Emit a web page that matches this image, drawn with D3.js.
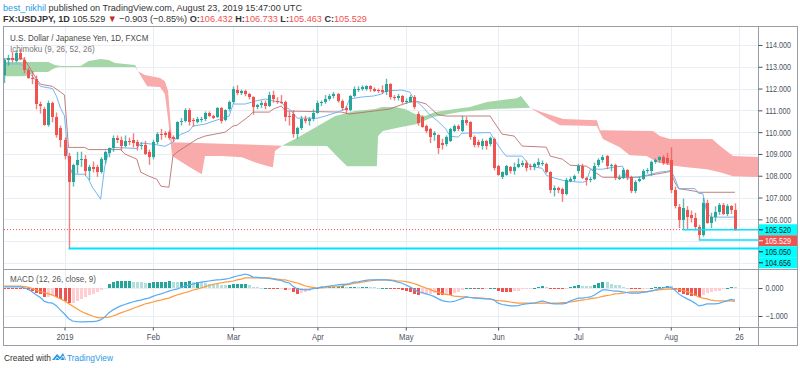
<!DOCTYPE html>
<html>
<head>
<meta charset="utf-8">
<script src="https://cdn.jsdelivr.net/npm/d3@7"></script>
<style>
body { margin: 0; background: #fff; }
svg { display: block; font-family: "Liberation Sans", Arial, sans-serif; }
</style>
</head>
<body>
<svg id="chart" width="800" height="368"></svg>
<script>
// daily FXCM USDJPY, 10 Dec 2018 .. 23 Aug 2019 (one value per trading day)
const opens = [
  112.60,113.30,113.40,113.25,113.65,113.30,112.85,112.50,112.45,111.30,111.05,110.35,111.35,110.70,110.20,
  109.65,108.90,107.70,108.50,108.70,108.75,108.20,108.40,108.40,108.15,108.70,109.05,109.25,109.75,109.65,109.35,109.60,109.65,109.55,109.35,109.40,109.10,
  108.85,109.55,109.90,109.95,110.00,109.80,109.70,110.45,110.50,111.00,110.55,110.45,110.55,110.60,110.90,110.75,110.70,111.10,110.55,111.05,
  111.40,111.95,111.80,111.90,111.75,111.60,111.15,111.25,111.35,111.20,111.70,111.45,111.40,111.40,110.75,110.85,109.90,110.20,110.60,110.50,110.60,
  110.90,111.35,111.40,111.50,111.65,111.75,111.45,111.10,111.00,111.65,111.95,112.00,112.00,112.10,112.00,111.95,111.95,111.85,112.20,111.60,111.55,111.65,
  111.40,111.40,111.60,110.85,110.70,110.30,110.15,109.85,109.85,109.50,109.45,109.60,110.05,110.30,110.05,110.55,110.45,109.80,109.55,109.35,109.60,109.45,109.70,
  108.45,107.95,108.05,108.40,108.20,108.40,108.50,108.60,108.45,108.40,108.50,108.55,108.55,108.15,107.35,107.45,107.40,107.15,107.75,107.85,
  108.20,108.45,107.90,107.80,107.85,108.50,108.70,108.90,108.45,108.50,107.90,107.90,108.25,107.95,107.30,107.75,107.85,108.20,108.20,108.65,108.70,108.85,108.80,
  108.70,107.35,106.55,105.95,106.45,106.20,106.05,105.65,105.30,106.75,105.85,106.10,106.35,106.65,106.25,106.60,106.432
];
const highs = [
  113.40,113.55,113.70,113.75,113.80,113.45,112.95,112.80,112.60,111.40,111.15,111.45,111.40,110.90,110.30,
  109.75,109.05,108.55,109.10,109.10,108.95,108.50,108.65,108.50,108.85,109.15,109.30,109.85,109.85,109.80,109.85,109.75,109.95,109.65,109.55,109.60,109.20,
  109.65,110.00,110.15,110.05,110.10,109.85,110.50,110.65,111.10,111.10,110.65,110.70,110.70,110.95,110.95,110.80,111.15,111.15,111.05,111.45,
  112.10,112.15,111.95,111.95,111.80,111.65,111.30,111.45,111.45,111.85,111.90,111.60,111.70,111.45,110.95,111.00,110.25,110.75,110.75,110.70,111.05,
  111.45,111.45,111.70,111.75,111.85,111.80,111.50,111.20,111.70,112.10,112.10,112.15,112.15,112.15,112.05,112.00,112.15,112.45,112.25,111.70,111.75,111.70,
  111.55,111.70,111.70,110.95,110.75,110.35,110.20,110.05,109.90,109.70,109.85,110.20,110.35,110.35,110.75,110.70,110.50,109.85,109.65,109.70,109.65,109.80,109.75,
  108.50,108.20,108.50,108.45,108.60,108.80,108.70,108.70,108.55,108.60,108.80,108.70,108.60,108.20,107.55,107.50,107.45,107.90,107.95,108.05,
  108.55,108.55,107.95,107.95,108.60,108.80,108.95,108.95,108.55,108.55,108.05,108.35,108.30,108.00,107.80,107.95,108.30,108.35,108.70,108.80,108.90,108.95,109.05,
  109.30,107.50,106.70,106.95,106.60,106.40,106.30,105.75,106.98,106.90,106.30,106.60,106.75,106.75,106.70,106.65,106.733
];
const lows = [
  112.25,113.05,113.20,113.20,113.30,112.70,112.45,112.20,111.05,110.85,110.30,110.25,110.45,109.75,109.30,
  108.75,104.656,107.50,108.10,108.40,108.00,107.80,108.15,107.95,108.10,108.55,108.85,109.10,109.50,109.15,109.30,109.40,109.30,109.15,109.20,108.95,108.50,
  108.75,109.45,109.65,109.75,109.65,109.55,109.65,110.30,110.45,110.30,110.25,110.40,110.45,110.50,110.70,110.60,110.65,110.40,110.50,110.95,
  111.30,111.70,111.70,111.65,111.50,110.80,111.05,111.10,111.05,111.15,111.35,111.30,111.30,110.50,110.30,109.75,109.70,110.10,110.40,110.30,110.50,
  110.85,111.20,111.30,111.45,111.55,111.35,111.00,110.85,110.95,111.60,111.85,111.90,111.90,111.85,111.85,111.80,111.75,111.70,111.50,111.45,111.45,111.30,
  111.30,111.35,111.05,110.30,110.20,109.95,109.50,109.60,109.00,109.20,109.35,109.55,110.00,110.05,110.00,110.30,109.65,109.30,109.30,109.20,109.20,109.35,108.25,
  108.00,107.85,108.00,108.10,108.05,108.35,108.40,108.20,108.25,108.25,108.40,108.45,108.10,107.20,107.05,107.20,106.80,107.10,107.70,107.75,
  108.10,107.85,107.55,107.70,107.80,108.40,108.60,108.30,108.20,107.80,107.80,107.85,107.80,107.20,107.20,107.70,107.80,108.10,108.00,108.55,108.60,108.50,108.50,
  107.20,106.50,105.60,105.52,105.55,105.85,105.50,105.05,105.20,105.80,105.60,105.90,106.20,106.20,106.15,106.25,105.463
];
const closes = [
  113.30,113.40,113.30,113.65,113.35,112.85,112.50,112.45,111.30,111.20,110.35,111.35,110.70,109.85,109.65,
  108.90,107.70,108.50,108.70,108.75,108.20,108.40,108.30,108.15,108.75,109.10,109.25,109.75,109.65,109.35,109.60,109.55,109.50,109.35,109.40,109.00,108.85,
  109.55,109.90,109.85,109.85,109.75,109.70,110.45,110.50,111.00,110.45,110.50,110.60,110.60,110.90,110.75,110.65,111.10,110.50,111.00,111.40,
  112.00,111.80,111.90,111.75,111.60,111.15,111.25,111.35,111.20,111.70,111.50,111.40,111.35,110.70,110.70,109.90,110.20,110.60,110.50,110.60,110.90,
  111.35,111.40,111.50,111.65,111.75,111.45,111.10,111.00,111.65,112.00,112.00,112.05,112.10,112.00,111.90,111.90,111.85,112.20,111.60,111.55,111.65,111.40,
  111.45,111.60,111.15,110.40,110.25,110.05,109.80,109.95,109.25,109.40,109.80,110.15,110.30,110.15,110.55,110.40,109.80,109.40,109.40,109.60,109.35,109.75,108.35,
  108.05,108.15,108.45,108.20,108.40,108.55,108.60,108.35,108.40,108.55,108.65,108.60,108.15,107.35,107.45,107.35,107.15,107.80,107.85,108.00,
  108.45,107.90,107.80,107.85,108.45,108.70,108.85,108.45,108.50,107.90,107.90,108.25,107.95,107.30,107.70,107.85,108.20,108.25,108.65,108.70,108.85,108.60,108.60,
  107.35,106.60,105.95,106.50,106.10,106.05,105.65,105.30,106.75,105.85,106.10,106.35,106.65,106.25,106.60,106.432,105.529
];

// ichimoku lines: [bar index, price]
const tenkan = [
  [0,113.13],[4,113.13],[5,113.0],[7,112.57],[8,112.35],[9,112.1],[12,112.0],[13,111.65],[14,111.1],[15,110.75],
  [16,108.6],[17,108.07],[20,108.07],[21,107.84],[22,107.45],[23,107.2],[24,106.92],[25,108.4],[26,109.1],[27,109.3],
  [33,109.25],[34,109.5],[37,109.45],[40,109.35],[42,109.54],[43,109.77],[44,109.9],[46,110.05],[47,110.28],[50,110.37],
  [52,110.5],[56,110.74],[57,111.29],[60,111.29],[63,111.45],[65,111.52],[67,111.43],[69,111.38],[70,111.15],[71,111.06],
  [73,110.64],[78,110.64],[80,110.74],[83,110.92],[85,111.06],[86,111.52],[89,111.61],[92,111.66],[94,111.75],[95,111.89],
  [99,111.93],[101,111.84],[102,111.52],[104,111.2],[106,110.8],[108,110.5],[110,110.14],[111,109.82],[113,109.77],[114,109.95],
  [121,109.98],[122,109.68],[124,109.13],[125,108.9],[129,108.9],[131,108.44],[134,108.34],[135,108.02],[137,107.89],[140,107.75],
  [144,107.7],[145,107.75],[146,108.3],[149,108.3],[152,108.4],[154,108.44],[155,107.89],[158,107.95],[160,108.02],[163,108.16],
  [165,108.2],[166,108.25],[167,107.9],[168,107.41],[172,107.41],[173,107.18],[174,107.18],[175,106.3],[176,106.1],[182,106.1]
];
const kijun = [
  [0,113.36],[5,113.36],[6,113.05],[8,112.45],[9,112.2],[12,112.1],[14,111.84],[15,111.7],[16,109.3],[20,109.3],
  [21,109.2],[29,109.2],[30,109.0],[33,108.76],[34,108.16],[36,107.98],[38,107.84],[39,107.52],[41,107.47],[42,108.9],
  [43,109.08],[48,109.68],[50,109.82],[55,110.0],[57,110.28],[58,110.32],[61,110.74],[62,110.92],[66,110.92],[67,111.06],
  [69,111.2],[70,110.97],[84,110.92],[86,110.83],[96,111.06],[98,111.2],[101,111.38],[103,111.4],[105,111.3],[108,110.8],
  [110,110.74],[121,110.74],[122,110.46],[124,109.91],[127,109.82],[129,109.36],[135,109.31],[136,108.9],[139,108.76],[141,108.48],
  [145,108.44],[149,107.93],[158,107.93],[165,108.16],[166,108.2],[167,107.7],[168,107.4],[169,107.38],[172,107.29],[173,107.24],[182,107.24]
];
const spanA = [
  [0,113.22],[4,113.22],[11,113.22],[12.6,113.08],[14,113.03],[19,113.03],[21,113.26],[24,113.36],[26,113.31],[27.6,113.17],[32.6,113.08],[33.3,112.8],
  [35.6,112.11],[38.8,112.07],[40,111.75],[40.8,110.6],[41.8,108.9],[45.8,108.44],[49.2,108.07],[50,108.9],[54.2,108.9],[59.2,108.85],[62.4,108.62],[65.7,108.44],[66.9,108.39],[67.4,109.13],[69.2,109.38],
  [73.2,109.77],[78.1,110.28],[82.4,110.74],[87.3,110.97],[92.3,111.06],[94.1,111.15],[97.3,111.15],[99.8,111.06],[102.3,110.83],[104.8,110.74],[107.3,110.92],[112.3,111.06],[116,111.15],[120.2,111.38],[127.7,111.56],[128.7,111.66],[131,111.12],
  [135.2,110.64],[138.4,110.32],[147.6,110.28],[149.1,109.68],[153.3,109.31],[155.8,108.94],[160,108.9],[162.6,108.62],[165.8,108.48],[170,108.39],[175,108.3],[178.3,108.16],[181.5,107.98],[189,107.93]
];
const spanB = [
  [0,112.57],[5.2,112.57],[7.6,112.76],[10.9,112.76],[12.1,112.9],[13.4,112.99],[32.6,112.99],[33.3,112.8],
  [35,112.62],[38.8,112.48],[40,112.34],[40.8,111.89],[41.8,109.54],[69.2,109.38],
  [80.4,109.36],[81.9,109.08],[83.6,108.76],[85.4,108.44],[92.8,108.44],[93.1,109.82],[94.3,110.05],[98.6,110.23],[102.8,110.37],[106.8,110.69],[113.5,110.92],[121.7,111.06],[131,111.12],
  [133.4,110.95],[136.7,110.75],[139.2,110.6],[147.6,110.55],[148.4,110.09],[161.6,110.05],[163.3,109.82],[165.8,109.68],[176.3,109.68],[178.3,109.36],[181.5,108.9],[189,108.85]
];
const cloudCuts = [0, 33.3, 69.2, 131, 189];

const macd = [
  0.04,0.04,0.04,0.04,0.04,0.00,-0.05,-0.14,-0.25,-0.34,
  -0.48,-0.52,-0.54,-0.64,-0.79,-0.93,-1.09,-1.18,-1.20,-1.21,
  -1.21,-1.20,-1.20,-1.18,-1.14,-1.04,-0.89,-0.79,-0.71,-0.64,
  -0.59,-0.54,-0.50,-0.46,-0.43,-0.39,-0.36,-0.30,-0.25,-0.21,
  -0.16,-0.11,-0.07,-0.04,0.02,0.07,0.11,0.14,0.18,0.21,
  0.23,0.25,0.27,0.29,0.30,0.32,0.34,0.39,0.43,0.46,
  0.50,0.46,0.39,0.38,0.36,0.36,0.34,0.32,0.29,0.27,
  0.21,0.18,0.05,-0.04,-0.05,-0.07,-0.05,-0.02,0.00,0.04,
  0.05,0.07,0.09,0.11,0.13,0.13,0.16,0.21,0.21,0.25,
  0.27,0.29,0.29,0.29,0.29,0.29,0.27,0.25,0.21,0.18,
  0.11,0.04,-0.04,-0.13,-0.16,-0.21,-0.25,-0.30,-0.38,-0.45,
  -0.48,-0.50,-0.48,-0.43,-0.38,-0.32,-0.34,-0.36,-0.36,-0.38,
  -0.39,-0.39,-0.43,-0.54,-0.59,-0.61,-0.64,-0.64,-0.63,-0.59,
  -0.57,-0.55,-0.54,-0.50,-0.46,-0.50,-0.55,-0.57,-0.57,-0.57,
  -0.54,-0.46,-0.41,-0.36,-0.36,-0.34,-0.32,-0.25,-0.16,-0.07,
  -0.07,-0.09,-0.11,-0.11,-0.14,-0.16,-0.18,-0.18,-0.18,-0.16,
  -0.14,-0.11,-0.07,-0.02,0.00,0.04,0.02,-0.07,-0.21,-0.30,
  -0.38,-0.45,-0.54,-0.64,-0.61,-0.57,-0.57,-0.57,-0.55,-0.50,
  -0.46,-0.41,-0.43
];
const signal = [
  0.07,0.07,0.07,0.07,0.07,0.05,0.02,-0.02,-0.07,-0.13,
  -0.16,-0.21,-0.25,-0.32,-0.39,-0.46,-0.55,-0.64,-0.73,-0.82,
  -0.89,-0.95,-1.00,-1.05,-1.07,-1.05,-1.04,-1.00,-0.95,-0.89,
  -0.84,-0.79,-0.73,-0.68,-0.63,-0.57,-0.54,-0.50,-0.46,-0.43,
  -0.39,-0.36,-0.30,-0.25,-0.21,-0.16,-0.13,-0.07,-0.04,0.00,
  0.05,0.09,0.13,0.16,0.18,0.21,0.23,0.25,0.29,0.32,
  0.36,0.36,0.36,0.36,0.36,0.36,0.36,0.34,0.32,0.30,
  0.29,0.25,0.21,0.18,0.13,0.07,0.04,0.02,0.00,0.00,
  0.02,0.04,0.04,0.05,0.07,0.11,0.13,0.16,0.18,0.21,
  0.23,0.25,0.27,0.29,0.29,0.29,0.29,0.27,0.25,0.25,
  0.23,0.20,0.16,0.11,0.05,0.00,-0.05,-0.11,-0.14,-0.20,
  -0.23,-0.25,-0.29,-0.30,-0.32,-0.32,-0.34,-0.34,-0.36,-0.36,
  -0.38,-0.39,-0.43,-0.45,-0.46,-0.48,-0.50,-0.52,-0.54,-0.54,
  -0.54,-0.54,-0.54,-0.54,-0.54,-0.54,-0.54,-0.54,-0.54,-0.52,
  -0.52,-0.50,-0.48,-0.45,-0.43,-0.41,-0.38,-0.36,-0.34,-0.30,
  -0.27,-0.25,-0.21,-0.20,-0.18,-0.16,-0.14,-0.14,-0.14,-0.13,
  -0.13,-0.11,-0.09,-0.07,-0.05,-0.04,-0.04,-0.04,-0.05,-0.09,
  -0.13,-0.18,-0.25,-0.32,-0.36,-0.39,-0.43,-0.45,-0.46,-0.46,
  -0.46,-0.46,-0.48
];

// drawn horizontal levels and the axis badges
const levelPrices = [105.520, 105.050, 104.656];
const levelStart = ["2019-08-06", "2019-08-12", "2019-01-03"];
const badgePrices = [105.520, 105.529, 105.050, 104.656];
const badgeFills = ["#00ffff", "#ef5350", "#00ffff", "#00ffff"];

const priceTicks = [106, 107, 108, 109, 110, 111, 112, 113, 114];
const macdTicks = [0, -1];
const tickDates = ["2019-01-02","2019-02-01","2019-03-01","2019-04-01","2019-05-01","2019-06-03","2019-07-01","2019-08-01","2019-08-26"];
const tickLabels = ["2019","Feb","Mar","Apr","May","Jun","Jul","Aug","26"];

const UP = "#26a69a", DOWN = "#ef5350";
const GRID = "#e9eef5", FRAME = "#9a9da6", TXT = "#4c525e";

// trading days, weekends and the two holidays skipped
const holidays = ["2018-12-25", "2019-01-01"];
const fmt = d3.utcFormat("%Y-%m-%d");
const days = [];
for (let d = new Date(Date.UTC(2018, 11, 10)); days.length < 195; d = d3.utcDay.offset(d, 1)) {
  const wd = d.getUTCDay();
  if (wd === 0 || wd === 6 || holidays.includes(fmt(d))) continue;
  days.push(fmt(d));
}
const dayIndex = s => days.indexOf(s);

const padL = 4, axisX = 758, paneTop = 27, mainBot = 269, macdBot = 327, frameBot = 345, outerR = 797;

const x = d3.scaleLinear().domain([dayIndex("2019-01-02"), dayIndex("2019-08-26")]).range([64.5, 739]);
const y = d3.scaleLinear().domain([103.72, 114.825]).range([mainBot, paneTop]);
const ym = d3.scaleLinear().domain([-1.393, 0.679]).range([macdBot, mainBot]);

const svg = d3.select("#chart");
svg.append("rect").attr("width", 800).attr("height", 368).attr("fill", "#fff");

const defs = svg.append("defs");
defs.append("clipPath").attr("id", "clipMain").append("rect")
  .attr("x", padL).attr("y", paneTop).attr("width", axisX - padL).attr("height", mainBot - paneTop);
defs.append("clipPath").attr("id", "clipMacd").append("rect")
  .attr("x", padL).attr("y", mainBot).attr("width", axisX - padL).attr("height", macdBot - mainBot);

// squeezed text helper (the snapshot is a bit narrower than its glyphs)
function txt(g, px, py, size, sx, anchor) {
  return g.append("text")
    .attr("transform", `translate(${px},${py}) scale(${sx},1)`)
    .attr("font-size", size).attr("text-anchor", anchor || "start");
}

// grid
const grid = svg.append("g").attr("shape-rendering", "crispEdges");
grid.selectAll("line.v").data(tickDates).join("line")
  .attr("x1", d => Math.round(x(dayIndex(d))) + 0.5).attr("x2", d => Math.round(x(dayIndex(d))) + 0.5)
  .attr("y1", paneTop).attr("y2", macdBot).attr("stroke", GRID);
grid.selectAll("line.h").data(d3.range(104, 115)).join("line")
  .attr("x1", padL).attr("x2", axisX)
  .attr("y1", d => Math.round(y(d)) + 0.5).attr("y2", d => Math.round(y(d)) + 0.5).attr("stroke", GRID);
grid.selectAll("line.hm").data(macdTicks).join("line")
  .attr("x1", padL).attr("x2", axisX)
  .attr("y1", d => Math.round(ym(d)) + 0.5).attr("y2", d => Math.round(ym(d)) + 0.5).attr("stroke", GRID);

// cloud
const main = svg.append("g").attr("clip-path", "url(#clipMain)");
const pl = d3.line().x(d => x(d[0])).y(d => y(d[1]));
for (let k = 0; k < cloudCuts.length - 1; k++) {
  const s = cloudCuts[k], e = cloudCuts[k + 1];
  const a = spanA.filter(d => d[0] >= s && d[0] <= e);
  const b = spanB.filter(d => d[0] >= s && d[0] <= e);
  const bull = d3.mean(a, d => d[1]) >= d3.mean(b, d => d[1]);
  main.append("path").attr("d", pl(a.concat(b.slice().reverse())) + "Z")
    .attr("fill", bull ? "#a5d6a7" : "#f9aaaa");
}

// tenkan / kijun
main.append("path").attr("d", pl(kijun)).attr("fill", "none")
  .attr("stroke", "#b86a6a").attr("stroke-opacity", 0.85).attr("stroke-width", 1);
main.append("path").attr("d", pl(tenkan)).attr("fill", "none")
  .attr("stroke", "#74b6f2").attr("stroke-width", 1);

// candles: soft wicks like the downscaled snapshot, crisp bodies
const bars = d3.range(closes.length);
const cx = i => Math.round(x(i));
const col = i => closes[i] >= opens[i] ? UP : DOWN;
main.append("g").selectAll("line").data(bars).join("line")
  .attr("x1", i => cx(i) + 0.5).attr("x2", i => cx(i) + 0.5)
  .attr("y1", i => y(highs[i])).attr("y2", i => y(lows[i]))
  .attr("stroke", col).attr("stroke-width", 1.4).attr("stroke-opacity", 0.75);
main.append("g").attr("shape-rendering", "crispEdges").selectAll("rect").data(bars).join("rect")
  .attr("x", i => cx(i) - 1).attr("width", 3)
  .attr("y", i => y(Math.max(opens[i], closes[i])))
  .attr("height", i => Math.max(1, Math.abs(y(opens[i]) - y(closes[i]))))
  .attr("fill", col);

// levels
const lv = main.append("g");
lv.append("line").attr("x1", padL).attr("x2", axisX)
  .attr("y1", y(closes[closes.length - 1])).attr("y2", y(closes[closes.length - 1]))
  .attr("stroke", DOWN).attr("stroke-dasharray", "1,2");
lv.selectAll("line.lvl").data(levelPrices).join("line").attr("class", "lvl")
  .attr("x1", (d, i) => x(dayIndex(levelStart[i]))).attr("x2", axisX)
  .attr("y1", d => y(d)).attr("y2", d => y(d))
  .attr("stroke", "#00e5ff").attr("stroke-width", (d, i) => i === 2 ? 2 : 1.5);

// MACD pane
const mp = svg.append("g").attr("clip-path", "url(#clipMacd)");
const hist = bars.map(i => macd[i] - signal[i]);
const hcol = i => {
  const h = hist[i], p = i > 0 ? hist[i - 1] : h;
  if (h >= 0) return h >= p ? "#26a69a" : "#b2dfdb";
  return h <= p ? "#ef5350" : "#ffcdd2";
};
mp.append("g").attr("shape-rendering", "crispEdges")
  .selectAll("rect").data(bars).join("rect")
  .attr("x", i => cx(i) - 1).attr("width", 3)
  .attr("y", i => Math.min(ym(0), ym(hist[i])))
  .attr("height", i => Math.max(0.5, Math.abs(ym(hist[i]) - ym(0))))
  .attr("fill", hcol);
const ml = d3.line().x((d, i) => x(i)).y(d => ym(d));
mp.append("path").attr("d", ml(signal)).attr("fill", "none").attr("stroke", "#ff9a3d").attr("stroke-width", 1.2);
mp.append("path").attr("d", ml(macd)).attr("fill", "none").attr("stroke", "#58acf5").attr("stroke-width", 1.2);

// frame
const fr = svg.append("g").attr("stroke", FRAME).attr("fill", "none").attr("shape-rendering", "crispEdges");
fr.append("rect").attr("x", 3.5).attr("y", paneTop - 0.5).attr("width", outerR - 3.5).attr("height", frameBot - paneTop + 0.5);
fr.append("line").attr("x1", axisX + 0.5).attr("x2", axisX + 0.5).attr("y1", paneTop).attr("y2", frameBot);
fr.append("line").attr("x1", 3.5).attr("x2", outerR).attr("y1", mainBot + 0.5).attr("y2", mainBot + 0.5);
fr.append("line").attr("x1", 3.5).attr("x2", outerR).attr("y1", macdBot + 0.5).attr("y2", macdBot + 0.5);

// axes
const pa = svg.append("g").attr("transform", `translate(${axisX + 0.5},0)`)
  .call(d3.axisRight(y).tickValues(priceTicks).tickFormat(d3.format(".3f")).tickSize(4).tickPadding(3));
const ma = svg.append("g").attr("transform", `translate(${axisX + 0.5},0)`)
  .call(d3.axisRight(ym).tickValues(macdTicks).tickFormat(d3.format(".3f")).tickSize(4).tickPadding(3));
const ta = svg.append("g").attr("transform", `translate(0,${macdBot + 0.5})`)
  .call(d3.axisBottom(x).tickValues(tickDates.map(dayIndex)).tickFormat((d, i) => tickLabels[i]).tickSize(3).tickPadding(3));
for (const a of [pa, ma, ta]) {
  a.select(".domain").remove();
  a.selectAll(".tick line").attr("stroke", TXT);
  a.selectAll("text").attr("fill", TXT).attr("font-size", 9).attr("font-family", null);
}
[pa, ma].forEach(a => a.selectAll("text").each(function () {
  const t = d3.select(this);
  t.attr("x", +t.attr("x") / 0.8).attr("transform", "scale(0.8,1)");
}));
ta.selectAll("text").attr("transform", "scale(0.85,1)");

// price badges, stacked like the platform does
const bg = svg.append("g");
let by = null;
badgePrices.forEach((p, i) => {
  const yy = by === null ? y(p) : Math.max(y(p), by + 11);
  by = yy;
  bg.append("rect").attr("x", axisX + 1).attr("y", yy - 5.5).attr("width", outerR - axisX - 1).attr("height", 11)
    .attr("fill", badgeFills[i]);
  bg.append("line").attr("x1", axisX + 1).attr("x2", axisX + 5).attr("y1", yy).attr("y2", yy)
    .attr("stroke", i === 1 ? "#fff" : "#131722");
  txt(bg, axisX + 7, yy + 3.2, 9, 0.8).attr("fill", i === 1 ? "#fff" : "#131722").text(d3.format(".3f")(p));
});

// legends
const lg = svg.append("g");
txt(lg, 10, 41, 9.6, 0.84).attr("fill", "#4a4a4a").text("U.S. Dollar / Japanese Yen, 1D, FXCM");
txt(lg, 10, 52, 9.6, 0.84).attr("fill", "#777").text("Ichimoku (9, 26, 52, 26)");
txt(lg, 10, 282, 9.6, 0.84).attr("fill", "#555").text("MACD (12, 26, close, 9)");

// header
const h1 = txt(svg, 3, 10.5, 9.8, 0.93).attr("fill", "#333");
h1.append("tspan").attr("fill", "#2a9ae6").text("best_nikhil");
h1.append("tspan").text(" published on TradingView.com, August 23, 2019 15:47:00 UTC");
const h2 = txt(svg, 3, 21.5, 9.8, 0.93).attr("fill", "#333");
h2.append("tspan").attr("font-weight", "bold").text("FX:USDJPY, 1D");
h2.append("tspan").text("  105.529 ");
h2.append("tspan").attr("fill", "#c62828").text("▼");
h2.append("tspan").text(" −0.903 (−0.85%) ");
[["O:", "106.432"], ["H:", "106.733"], ["L:", "105.463"], ["C:", "105.529"]].forEach(([k, v]) => {
  h2.append("tspan").attr("font-weight", "bold").text(k);
  h2.append("tspan").attr("fill", "#ef5350").text(v + " ");
});

// footer
const ft = svg.append("g");
txt(ft, 4, 361, 9.5, 0.88).attr("fill", "#333").text("Created with");
const logo = ft.append("g").attr("transform", "translate(52,352)");
logo.append("path").attr("d", "M0,8 L5,2 L8,5 L11,1 L14,8 Z").attr("fill", "#2a9ae6");
logo.append("path").attr("d", "M3,8 L5,5 L8,8 M8,8 L11,4 L13,8").attr("stroke", "#fff").attr("fill", "none").attr("stroke-width", 0.8);
txt(ft, 67, 361, 9.5, 0.88).attr("fill", "#2a9ae6").text("TradingView");
</script>
</body>
</html>
